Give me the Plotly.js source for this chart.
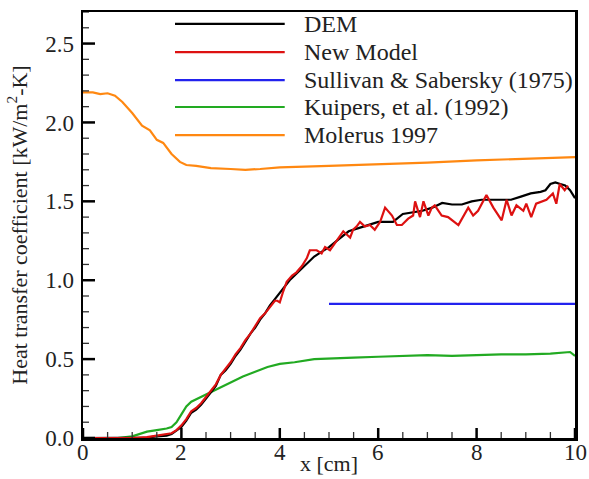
<!DOCTYPE html>
<html>
<head>
<meta charset="utf-8">
<script src="https://cdn.plot.ly/plotly-3.0.1.min.js"></script>
<style>html,body{margin:0;padding:0;background:#fff;}#chart{width:589px;height:479px;}</style>
</head>
<body>
<div id="chart"></div>
<script>
// ---- data ----
const seriesNames = ["DEM", "New Model", "Sullivan & Sabersky (1975)", "Kuipers, et al. (1992)", "Molerus 1997"];
const seriesColors = ["#000000", "#dd1111", "#2222ee", "#22aa22", "#ff8811"];

const demX = [0, 0.5, 1.0, 1.3, 1.5, 1.7, 1.8, 1.9, 2.0, 2.1, 2.2, 2.3, 2.4, 2.5, 2.6, 2.7, 2.8, 2.9, 3.0, 3.1, 3.2, 3.3, 3.4, 3.5, 3.6, 3.7, 3.8, 3.9, 4.0, 4.1, 4.2, 4.3, 4.4, 4.5, 4.6, 4.7, 4.8, 4.9, 5.0, 5.2, 5.4, 5.6, 5.8, 6.0, 6.2, 6.3, 6.5, 6.7, 6.9, 7.1, 7.3, 7.5, 7.7, 7.9, 8.1, 8.3, 8.5, 8.7, 8.9, 9.1, 9.3, 9.4, 9.5, 9.6, 9.7, 9.8, 9.9, 10.0];
const demY = [0, 0, 0, 0.003, 0.01, 0.015, 0.025, 0.045, 0.07, 0.11, 0.16, 0.18, 0.21, 0.25, 0.29, 0.33, 0.40, 0.43, 0.47, 0.52, 0.56, 0.61, 0.66, 0.70, 0.75, 0.79, 0.84, 0.88, 0.92, 0.96, 1.00, 1.03, 1.06, 1.09, 1.12, 1.15, 1.17, 1.19, 1.21, 1.26, 1.31, 1.33, 1.35, 1.37, 1.37, 1.37, 1.42, 1.43, 1.44, 1.46, 1.49, 1.48, 1.48, 1.50, 1.51, 1.51, 1.51, 1.51, 1.53, 1.55, 1.56, 1.57, 1.61, 1.62, 1.61, 1.60, 1.57, 1.52];

const newX = [0, 0.5, 1.0, 1.3, 1.5, 1.7, 1.8, 1.9, 2.0, 2.1, 2.2, 2.3, 2.4, 2.5, 2.6, 2.7, 2.8, 2.9, 3.0, 3.1, 3.2, 3.3, 3.4, 3.5, 3.6, 3.7, 3.8, 3.9, 3.95, 4.0, 4.07, 4.14, 4.25, 4.34, 4.45, 4.55, 4.61, 4.68, 4.75, 4.85, 4.92, 5.02, 5.09, 5.16, 5.29, 5.36, 5.43, 5.49, 5.56, 5.63, 5.73, 5.83, 5.93, 6.04, 6.14, 6.28, 6.38, 6.48, 6.61, 6.71, 6.75, 6.85, 6.92, 7.02, 7.09, 7.15, 7.29, 7.42, 7.63, 7.83, 7.93, 8.03, 8.20, 8.34, 8.51, 8.61, 8.71, 8.81, 8.95, 9.01, 9.11, 9.21, 9.32, 9.42, 9.55, 9.62, 9.69, 9.79, 9.86];
const newY = [0, 0, 0, 0.005, 0.015, 0.025, 0.03, 0.05, 0.08, 0.12, 0.17, 0.19, 0.22, 0.26, 0.30, 0.34, 0.40, 0.44, 0.48, 0.53, 0.57, 0.62, 0.66, 0.71, 0.76, 0.79, 0.83, 0.87, 0.87, 0.86, 0.93, 0.99, 1.03, 1.05, 1.09, 1.14, 1.19, 1.19, 1.19, 1.17, 1.21, 1.19, 1.22, 1.25, 1.31, 1.29, 1.27, 1.32, 1.34, 1.37, 1.34, 1.35, 1.32, 1.37, 1.46, 1.41, 1.35, 1.35, 1.39, 1.41, 1.50, 1.40, 1.50, 1.41, 1.46, 1.475, 1.41, 1.40, 1.35, 1.46, 1.41, 1.44, 1.54, 1.46, 1.38, 1.51, 1.41, 1.475, 1.44, 1.485, 1.40, 1.485, 1.50, 1.51, 1.55, 1.485, 1.61, 1.57, 1.60];

const sullivanX = [5, 10];
const sullivanY = [0.85, 0.85];

const kuipersX = [0, 0.7, 1.0, 1.3, 1.5, 1.7, 1.8, 1.9, 2.0, 2.1, 2.2, 2.4, 2.6, 2.8, 3.0, 3.25, 3.5, 3.75, 4.0, 4.3, 4.7, 5.0, 5.5, 6.0, 6.5, 7.0, 7.5, 8.0, 8.5, 9.0, 9.5, 9.9, 10.0];
const kuipersY = [0, 0, 0.01, 0.04, 0.05, 0.06, 0.07, 0.10, 0.15, 0.20, 0.23, 0.26, 0.29, 0.32, 0.35, 0.39, 0.42, 0.45, 0.47, 0.48, 0.50, 0.505, 0.51, 0.515, 0.52, 0.525, 0.52, 0.525, 0.53, 0.53, 0.535, 0.545, 0.52];

const molerusX = [0, 0.2, 0.35, 0.5, 0.65, 0.8, 1.0, 1.2, 1.36, 1.5, 1.63, 1.8, 1.97, 2.1, 2.3, 2.6, 3.0, 3.3, 3.6, 4.0, 5, 6, 7, 8, 9, 10];
const molerusY = [2.19, 2.19, 2.18, 2.185, 2.17, 2.13, 2.06, 1.98, 1.95, 1.89, 1.87, 1.80, 1.75, 1.73, 1.725, 1.71, 1.705, 1.70, 1.705, 1.715, 1.725, 1.735, 1.745, 1.76, 1.77, 1.78];

const xTickLabels = ["0", "2", "4", "6", "8", "10"];
const yTickLabels = ["0.0", "0.5", "1.0", "1.5", "2.0", "2.5"];

const xRange = [0, 10];
const yRange = [0, 2.7];
const xTickStep = 2;
const xMinorStep = 0.5;
const yTickStep = 0.5;
const yMinorStep = 0.1;

// ---- drawing ----
const W = 589, H = 479;
const M = {l: 83, r: 14, t: 12, b: 41};
const plotW = W - M.l - M.r, plotH = H - M.t - M.b;
const xPerPx = (xRange[1] - xRange[0]) / plotW;
const yPerPx = (yRange[1] - yRange[0]) / plotH;

const FONT = 'Liberation Serif, Times New Roman, serif';
const xs = [demX, newX, sullivanX, kuipersX, molerusX];
const ys = [demY, newY, sullivanY, kuipersY, molerusY];
const order = [4, 3, 2, 0, 1];
const traces = order.map(i => ({
  x: xs[i], y: ys[i], type: 'scatter', mode: 'lines', name: seriesNames[i],
  line: {color: seriesColors[i], width: 2.2}, showlegend: false, cliponaxis: false
}));

function steps(lo, hi, step) {
  const out = [];
  const n = Math.floor((hi - lo) / step + 1e-9);
  for (let k = 0; k <= n; k++) out.push(+(lo + k * step).toFixed(6));
  return out;
}
const isMajor = (v, step) => Math.abs(v / step - Math.round(v / step)) < 1e-6;

const shapes = [], annotations = [];

// inward tick marks on bottom and left axes, as data-coordinate line shapes
steps(xRange[0], xRange[1], xMinorStep).forEach(v => {
  const major = isMajor(v, xTickStep);
  shapes.push({type: 'line', xref: 'x', yref: 'y', layer: 'above',
    x0: v, x1: v, y0: yRange[0], y1: yRange[0] + (major ? 10 : 6) * yPerPx,
    line: {color: major ? '#000' : '#333', width: major ? 2.5 : 1.3}});
});
steps(yRange[0], yRange[1], yMinorStep).forEach(v => {
  const major = isMajor(v, yTickStep);
  shapes.push({type: 'line', xref: 'x', yref: 'y', layer: 'above',
    x0: xRange[0], x1: xRange[0] + (major ? 12 : 6) * xPerPx, y0: v, y1: v,
    line: {color: major ? '#000' : '#333', width: major ? 2.5 : 1.3}});
});

// x tick labels placed just under the axis
steps(xRange[0], xRange[1], xTickStep).forEach((v, k) => {
  annotations.push({xref: 'x', yref: 'paper', x: v, y: 0, yshift: -14, text: xTickLabels[k], showarrow: false,
    xanchor: 'center', yanchor: 'middle', font: {family: FONT, size: 23, color: '#222'}});
});
// x axis title
annotations.push({xref: 'paper', yref: 'paper', x: 0.5, y: 0, yshift: -40, text: 'x [cm]', showarrow: false,
  xanchor: 'center', yanchor: 'bottom', font: {family: FONT, size: 22, color: '#222'}});

// manual legend (long sample lines like the reference)
const legX0 = 0.187, legX1 = 0.41, legTextX = 0.445;
const legY = [0.972, 0.906, 0.840, 0.777, 0.711];
seriesNames.forEach((n, i) => {
  shapes.push({type: 'line', xref: 'paper', yref: 'paper', x0: legX0, x1: legX1, y0: legY[i], y1: legY[i],
    line: {color: seriesColors[i], width: 2.2}});
  annotations.push({xref: 'paper', yref: 'paper', x: legTextX, y: legY[i], text: n, showarrow: false,
    xanchor: 'left', yanchor: 'middle', font: {family: FONT, size: 24, color: '#222'}});
});

const layout = {
  width: W, height: H,
  font: {family: FONT, size: 23, color: '#222'},
  margin: {l: M.l, r: M.r, t: M.t, b: M.b, pad: 0},
  paper_bgcolor: '#fff', plot_bgcolor: '#fff',
  showlegend: false,
  xaxis: {
    range: xRange, tickmode: 'linear', tick0: 0, dtick: xTickStep, showticklabels: false,
    showgrid: false, zeroline: false, showline: true, linecolor: '#000', linewidth: 2.5, mirror: true,
    ticks: ''
  },
  yaxis: {
    range: yRange, tickmode: 'array', tickvals: steps(yRange[0], yRange[1], yTickStep), ticktext: yTickLabels,
    showgrid: false, zeroline: false, showline: true, linecolor: '#000', linewidth: 2.5, mirror: true,
    ticks: '', ticklabelstandoff: 2,
    tickfont: {family: FONT, size: 23, color: '#222'},
    title: {text: 'Heat transfer coefficient [kW/m<sup>2</sup>-K]', font: {family: FONT, size: 22, color: '#222'}, standoff: 12}
  },
  shapes: shapes,
  annotations: annotations
};

Plotly.newPlot('chart', traces, layout, {staticPlot: true, displayModeBar: false});
</script>
</body>
</html>
